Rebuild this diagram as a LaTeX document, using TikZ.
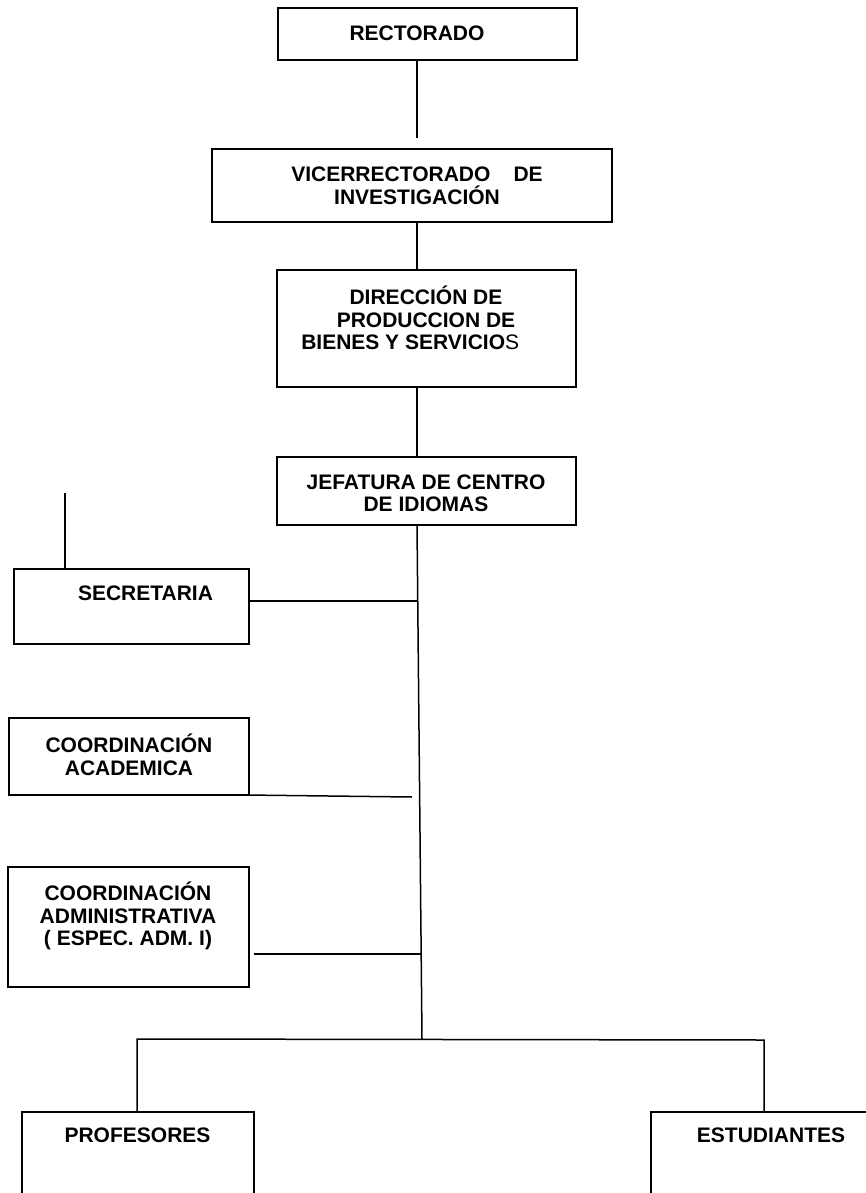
\documentclass[tikz,border=0pt]{standalone}
\usepackage{fontspec}
\setmainfont{Liberation Sans}

\begin{document}
\begin{tikzpicture}[x=0.6pt, y=-0.6pt, line width=0.9pt,
    unit/.style={draw, rectangle, inner sep=0pt, outer sep=0pt},
    lbl/.style={inner sep=0pt, align=center,
      font=\fontsize{12.6}{13.5}\selectfont\bfseries}]
      \useasboundingbox (0,0) rectangle (866,1193);

      % boxes
      \node[unit, minimum width=179.4pt, minimum height=31.2pt] (rect) at (427.5,34)    {};
      \node[unit, minimum width=240pt,   minimum height=43.8pt] (vice) at (412,185.5)   {};
      \node[unit, minimum width=179.4pt, minimum height=70.2pt] (dir)  at (426.5,328.5) {};
      \node[unit, minimum width=179.4pt, minimum height=40.8pt] (jef)  at (426.5,491)   {};
      \node[unit, minimum width=141pt,   minimum height=45pt]   (sec)  at (131.5,606.5) {};
      \node[unit, minimum width=144pt,   minimum height=46.2pt] (acad) at (129,756.5)   {};
      \node[unit, minimum width=144.6pt, minimum height=72pt]   (adm)  at (128.5,927)   {};
      \node[unit, minimum width=139.2pt, minimum height=76.8pt] (prof) at (138,1176)    {};
      \node[unit, minimum width=149.4pt, minimum height=76.8pt] (est)  at (775.5,1176)  {};

      % labels
      \node[lbl] (trect) at (417,33)    {RECTORADO};
      \node[lbl] (tvice) at (417,186)   {VICERRECTORADO\hspace{1.1em}DE\\INVESTIGACIÓN};
      \node[lbl] (tdir)  at (426,318)   {DIRECCIÓN DE\\PRODUCCION DE\\BIENES Y SERVICIO{\mdseries S}\hspace*{19pt}};
      \node[lbl] (tjef)  at (426,493.5) {JEFATURA DE CENTRO\\DE IDIOMAS};
      \node[lbl] (tsec)  at (145.5,593) {SECRETARIA};
      \node[lbl] (tacad) at (129,755)   {COORDINACIÓN\\ACADEMICA};
      \node[lbl] (tadm)  at (128,916)   {COORDINACIÓN\\ADMINISTRATIVA\\( ESPEC. ADM. I)};
      \node[lbl] (tprof) at (137.5,1135) {PROFESORES};
      \node[lbl] (test)  at (771,1135)  {ESTUDIANTES};

      % free ends
      \coordinate (c1) at (417,138);
      \coordinate (trunk) at (422,1039);
      \coordinate (s0) at (65,493);
      \coordinate (s1) at (418,601);
      \coordinate (a1) at (412,797);
      \coordinate (a2) at (422,954);
      \coordinate (b1) at (137,1039);
      \coordinate (b2) at (764,1040);

      \draw (c1 |- rect.south) -- (c1);
      \draw (vice.south -| c1) -- (dir.north -| c1);
      \draw (dir.south -| c1) -- (jef.north -| c1);
      \draw (jef.south -| c1) -- (trunk);
      \draw (s0) -- (s0 |- sec.north);
      \draw (sec.east |- s1) -- (s1);
      \draw ([xshift=-2pt]acad.south east) -- (a1);
      \draw ([xshift=3pt]adm.east |- a2) -- (a2);
      \draw (prof.north -| b1) -- (b1) -- (b2) -- (est.north -| b2);
    \end{tikzpicture}
\end{document}
